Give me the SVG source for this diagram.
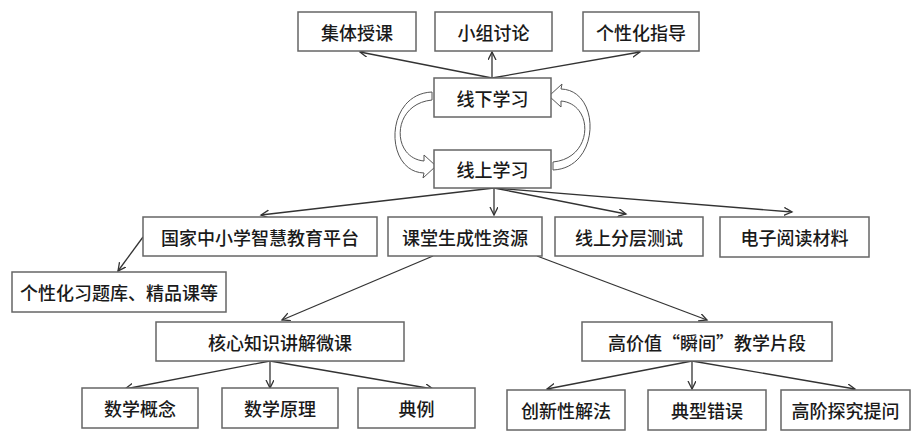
<svg xmlns="http://www.w3.org/2000/svg" width="912" height="432" viewBox="0 0 912 432">
<defs>
<marker id="ah" markerWidth="10" markerHeight="10" refX="8" refY="4" orient="auto" markerUnits="userSpaceOnUse">
<path d="M0,0 L8,4 L0,8" fill="none" stroke="#333" stroke-width="1.3"/>
</marker>
<style>
.box{fill:#fff;stroke:#666;stroke-width:1.5}
.t{font-family:"Noto Sans CJK SC","Liberation Sans",sans-serif;font-size:18px;font-weight:500;fill:#1a1a1a;text-anchor:middle;dominant-baseline:central}
.c{stroke:#333;stroke-width:1.3;fill:none;marker-end:url(#ah)}
.cy{fill:#fff;stroke:#555;stroke-width:1}
</style>
</defs>
<rect width="912" height="432" fill="#fff"/>
<g id="connectors">
<line class="c" x1="492" y1="78" x2="360" y2="52"/>
<line class="c" x1="492" y1="78" x2="492" y2="52"/>
<line class="c" x1="492" y1="78" x2="640" y2="52"/>
<line class="c" x1="494" y1="188" x2="261" y2="215"/>
<line class="c" x1="494" y1="188" x2="494" y2="215"/>
<line class="c" x1="494" y1="188" x2="626" y2="214"/>
<line class="c" x1="494" y1="188" x2="792" y2="212"/>
<line class="c" x1="143" y1="237" x2="118" y2="271"/>
<line class="c" x1="433" y1="256" x2="282" y2="320"/>
<line class="c" x1="537" y1="256" x2="707" y2="320"/>
<line class="c" x1="270" y1="361" x2="125" y2="389"/>
<line class="c" x1="270" y1="361" x2="270" y2="388"/>
<line class="c" x1="270" y1="361" x2="433" y2="389"/>
<line class="c" x1="692" y1="361" x2="547" y2="389"/>
<line class="c" x1="692" y1="361" x2="692" y2="389"/>
<line class="c" x1="692" y1="361" x2="855" y2="389"/>
<path class="cy" d="M432,92 C384,94 384,172 424,173 L423,178 L436,166 L424,155 L424,161 C391,158 391,104 432,100 Z"/>
<path class="cy" d="M553,170 C601,168 601,90 561,89 L562,84 L549,96 L561,107 L561,101 C594,104 594,158 553,162 Z"/>
</g>
<g id="n1"><rect class="box" x="298" y="12" width="118" height="39"/><text class="t" x="357" y="31.5">集体授课</text></g>
<g id="n2"><rect class="box" x="435" y="12" width="117" height="39"/><text class="t" x="493.5" y="31.5">小组讨论</text></g>
<g id="n3"><rect class="box" x="583" y="12" width="116" height="39"/><text class="t" x="641" y="31.5">个性化指导</text></g>
<g id="n4"><rect class="box" x="434" y="78" width="117" height="39"/><text class="t" x="492.5" y="97.5">线下学习</text></g>
<g id="n5"><rect class="box" x="434" y="150" width="117" height="38"/><text class="t" x="492.5" y="169">线上学习</text></g>
<g id="n6"><rect class="box" x="143" y="217" width="234" height="39"/><text class="t" x="260" y="236.5">国家中小学智慧教育平台</text></g>
<g id="n7"><rect class="box" x="388" y="217" width="154" height="39"/><text class="t" x="465" y="236.5">课堂生成性资源</text></g>
<g id="n8"><rect class="box" x="555" y="217" width="148" height="39"/><text class="t" x="629" y="236.5">线上分层测试</text></g>
<g id="n9"><rect class="box" x="720" y="217" width="149" height="40"/><text class="t" x="794.5" y="237">电子阅读材料</text></g>
<g id="n10"><rect class="box" x="12" y="272" width="214" height="40"/><text class="t" x="119" y="292">个性化习题库、精品课等</text></g>
<g id="n11"><rect class="box" x="156" y="322" width="248" height="39"/><text class="t" x="280" y="341.5">核心知识讲解微课</text></g>
<g id="n12"><rect class="box" x="582" y="322" width="250" height="39"/><text class="t" x="707" y="341.5">高价值“瞬间”教学片段</text></g>
<g id="n13"><rect class="box" x="82" y="388" width="116" height="40"/><text class="t" x="140" y="408">数学概念</text></g>
<g id="n14"><rect class="box" x="222" y="388" width="116" height="40"/><text class="t" x="280" y="408">数学原理</text></g>
<g id="n15"><rect class="box" x="358" y="388" width="117" height="40"/><text class="t" x="416.5" y="408">典例</text></g>
<g id="n16"><rect class="box" x="507" y="390" width="118" height="40"/><text class="t" x="566" y="410">创新性解法</text></g>
<g id="n17"><rect class="box" x="648" y="390" width="118" height="40"/><text class="t" x="707" y="410">典型错误</text></g>
<g id="n18"><rect class="box" x="781" y="390" width="129" height="40"/><text class="t" x="845.5" y="410">高阶探究提问</text></g>
</svg>
